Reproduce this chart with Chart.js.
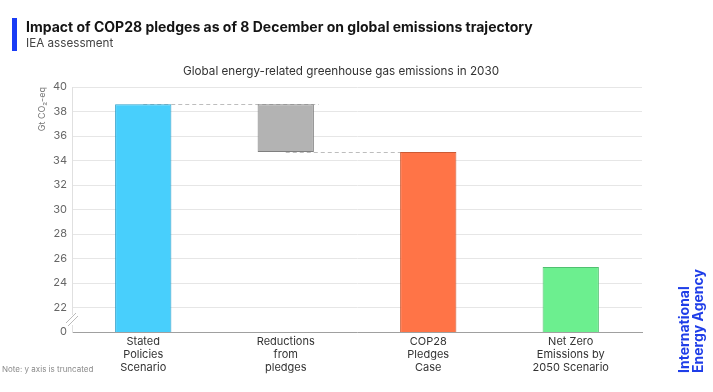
<!DOCTYPE html>
<html>
<head>
<meta charset="utf-8">
<script src="https://cdn.jsdelivr.net/npm/chart.js@4/dist/chart.umd.min.js"></script>
<style>
  html, body { margin: 0; padding: 0; background: #fff; }
  #wrap { position: relative; width: 713px; height: 392px; }
</style>
</head>
<body>
<div id="wrap"><canvas id="chart" width="713" height="392"></canvas></div>
<script>
// values (Gt CO2-eq, 2030)
const categories = [
  ['Stated', 'Policies', 'Scenario'],
  ['Reductions', 'from', 'pledges'],
  ['COP28', 'Pledges', 'Case'],
  ['Net Zero', 'Emissions by', '2050 Scenario']
];
const statedPolicies = 38.6;
const cop28Case = 34.7;
const netZero = 25.3;
const yMin = 20;   // truncated axis, shown as 0
const yMax = 40;

const barColors = ['#48cffc', '#b3b3b3', '#ff7447', '#6cef8f'];
const borderColors = ['#2f9fc8', '#7f7f7f', '#cc5a34', '#50c070'];

// floating bars: [start, end]
const barData = [
  [0, statedPolicies],
  [cop28Case, statedPolicies],
  [0, cop28Case],
  [0, netZero]
];

const FONT = 'Inter, Roboto, "Noto Sans", sans-serif';

const extras = {
  id: 'extras',
  beforeDatasetsDraw(chart) {
    const ctx = chart.ctx;
    const bars = chart.getDatasetMeta(0).data;
    const y = chart.scales.y;
    ctx.save();
    ctx.strokeStyle = '#bdbdbd';
    ctx.lineWidth = 1;
    ctx.setLineDash([4, 3]);
    let yy = Math.round(y.getPixelForValue(statedPolicies)) + 0.5;
    ctx.beginPath();
    ctx.moveTo(bars[0].x, yy);
    ctx.lineTo(bars[1].x + bars[1].width / 2 + 5, yy);
    ctx.stroke();
    yy = Math.round(y.getPixelForValue(cop28Case)) + 0.5;
    ctx.beginPath();
    ctx.moveTo(bars[1].x, yy);
    ctx.lineTo(bars[2].x, yy);
    ctx.stroke();
    ctx.restore();
  },
  afterDraw(chart) {
    const ctx = chart.ctx;
    const area = chart.chartArea;
    ctx.save();
    // header
    ctx.fillStyle = '#1a3cf5';
    ctx.fillRect(12, 18, 5, 33);
    ctx.textBaseline = 'alphabetic';
    ctx.textAlign = 'left';
    ctx.fillStyle = '#141414';
    ctx.font = 'bold 14px ' + FONT;
    ctx.fillText('Impact of COP28 pledges as of 8 December on global emissions trajectory', 26, 32);
    ctx.fillStyle = '#444';
    ctx.font = '11.7px ' + FONT;
    ctx.fillText('IEA assessment', 26, 47);
    // chart title
    ctx.textAlign = 'center';
    ctx.fillStyle = '#333';
    ctx.font = '11.7px ' + FONT;
    ctx.fillText('Global energy-related greenhouse gas emissions in 2030', 341, 75);
    // note
    ctx.textAlign = 'left';
    ctx.fillStyle = '#8a8a8a';
    ctx.font = '8px ' + FONT;
    ctx.fillText('Note: y axis is truncated', 2, 372);
    // axis break mark
    const bx = area.left, by = area.bottom - 12;
    ctx.fillStyle = '#fff';
    ctx.fillRect(bx - 1, by - 5, 3, 10);
    ctx.strokeStyle = '#bbb';
    ctx.lineWidth = 1;
    ctx.beginPath();
    ctx.moveTo(bx - 6, by + 3); ctx.lineTo(bx + 4, by - 7);
    ctx.moveTo(bx - 4, by + 6); ctx.lineTo(bx + 6, by - 4);
    ctx.stroke();
    // logo
    ctx.fillStyle = '#1f3ee8';
    ctx.font = 'bold 14px ' + FONT;
    ctx.translate(689, 373);
    ctx.rotate(-Math.PI / 2);
    ctx.fillText('International', 0, 0);
    ctx.fillText('Energy Agency', 0, 14);
    ctx.restore();
  }
};

new Chart(document.getElementById('chart'), {
  type: 'bar',
  data: {
    labels: categories,
    datasets: [{
      data: barData,
      backgroundColor: barColors,
      borderColor: borderColors,
      borderWidth: 1,
      borderSkipped: false,
      categoryPercentage: 1,
      barPercentage: 0.395
    }]
  },
  options: {
    responsive: false,
    animation: false,
    layout: { padding: { top: 87, right: 71, bottom: 0, left: 37 } },
    plugins: { legend: { display: false }, tooltip: { enabled: false } },
    scales: {
      x: {
        grid: { display: false, drawTicks: false },
        border: { color: '#a0a0a0' },
        ticks: { color: '#333', font: { family: FONT, size: 11 }, padding: 3, maxRotation: 0, autoSkip: false },
        afterFit(s) { s.height = 60; }
      },
      y: {
        min: yMin,
        max: yMax,
        grid: { color: '#e6e6e6', drawTicks: false },
        border: { color: '#e0e0e0' },
        ticks: {
          stepSize: 2,
          color: '#666',
          padding: 5,
          font: { family: FONT, size: 11 },
          callback: v => (v === yMin ? '0' : v)
        },
        title: {
          display: true,
          text: 'Gt CO₂-eq',
          align: 'end',
          color: '#777',
          font: { family: FONT, size: 9 },
          padding: { top: 0, bottom: 2 }
        },
        afterFit(s) { s.width = 35; }
      }
    }
  },
  plugins: [extras]
});
</script>
</body>
</html>
